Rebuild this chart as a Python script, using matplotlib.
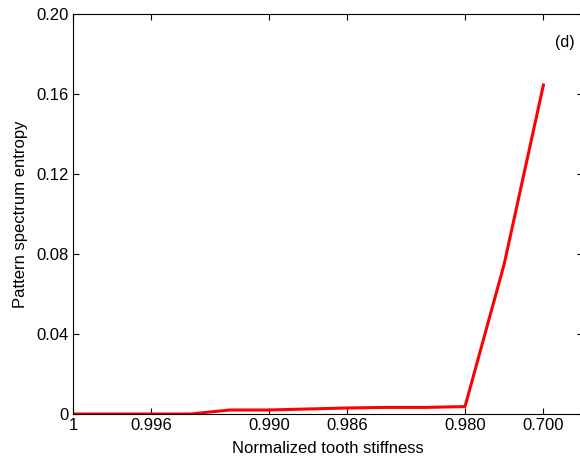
import matplotlib.pyplot as plt

# MATLAB-style sample index and entropy values
sample_idx = [1, 2, 3, 4, 5, 6, 7, 8, 9, 10, 11, 12, 13]
entropy = [0, 0, 0, 0, 0.002, 0.002, 0.0025, 0.003, 0.0033, 0.0033, 0.0037, 0.075, 0.1645]

tick_idx = [1, 3, 6, 8, 11, 13]
tick_labels = ["1", "0.996", "0.990", "0.986", "0.980", "0.700"]
y_ticks = [0, 0.04, 0.08, 0.12, 0.16, 0.20]
y_labels = ["0", "0.04", "0.08", "0.12", "0.16", "0.20"]

plt.rcParams["font.family"] = ["Liberation Sans", "DejaVu Sans"]

fig = plt.figure(figsize=(5.8, 4.58), dpi=100)
ax = fig.add_axes([0.1259, 0.0961, 0.8786, 0.8733])

ax.plot(sample_idx, entropy, color="red", linewidth=2.2)

ax.set_xlim(1, 14)
ax.set_ylim(0, 0.20)
ax.set_xticks(tick_idx)
ax.set_xticklabels(tick_labels)
ax.set_yticks(y_ticks)
ax.set_yticklabels(y_labels)
ax.tick_params(direction="in", length=4, width=0.8, labelsize=12,
               top=True, right=True, pad=3)

ax.set_xlabel("Normalized tooth stiffness", fontsize=12, labelpad=6)
ax.set_ylabel("Pattern spectrum entropy", fontsize=12, labelpad=6)
ax.text(13.55, 0.186, "(d)", fontsize=11.5, ha="center", va="center")

for s in ax.spines.values():
    s.set_linewidth(0.8)

fig.savefig("out.png", dpi=100)
